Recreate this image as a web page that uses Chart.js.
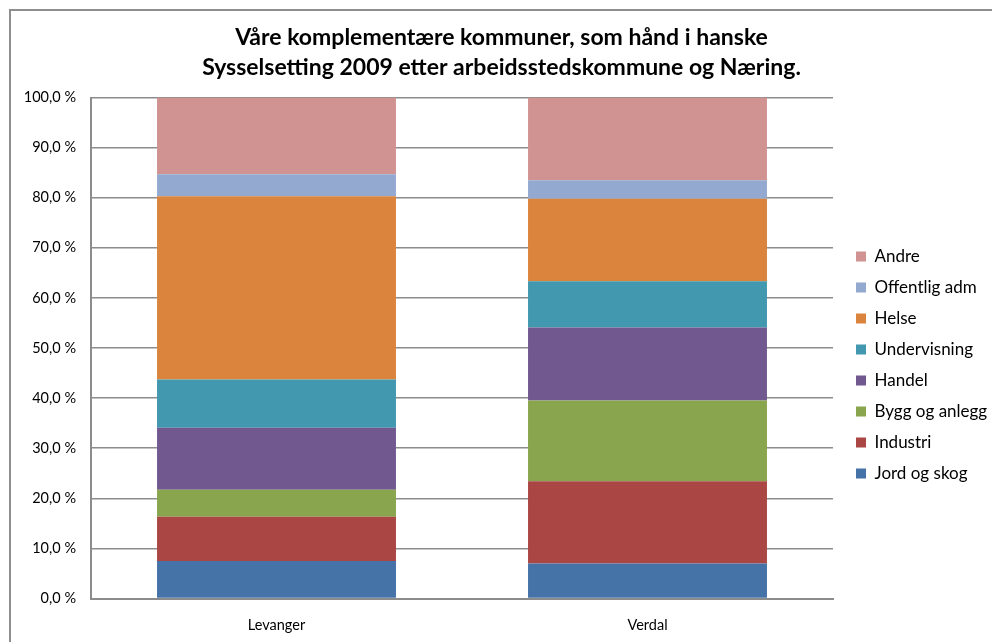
<!DOCTYPE html>
<html>
<head>
<meta charset="utf-8">
<script src="https://cdn.jsdelivr.net/npm/chart.js@4/dist/chart.umd.min.js"></script>
<style>
  html, body { margin: 0; padding: 0; background: #fff; overflow: hidden; }
  #frame { position: absolute; left: 9px; top: 9px; width: 1100px; height: 800px; border: 2px solid #8e8e8e; }
  #wrap { position: absolute; left: 0; top: 0; width: 992px; height: 642px; }
</style>
</head>
<body>
<div id="frame"></div>
<div id="wrap"><canvas id="chart"></canvas></div>
<script>
const kommuner = ['Levanger', 'Verdal']
const naeringer = ['Jord og skog', 'Industri', 'Bygg og anlegg', 'Handel', 'Undervisning', 'Helse', 'Offentlig adm', 'Andre']
const levanger = [7.5, 8.8, 5.4, 12.4, 9.6, 36.6, 4.4, 15.3]
const verdal = [7.0, 16.4, 16.1, 14.6, 9.2, 16.5, 3.7, 16.5]
const farger = ['#4572A7', '#AA4643', '#89A54E', '#71588F', '#4198AF', '#DB843D', '#93A9CF', '#D19392']
const yTickLabels = ['0,0 %', '10,0 %', '20,0 %', '30,0 %', '40,0 %', '50,0 %', '60,0 %', '70,0 %', '80,0 %', '90,0 %', '100,0 %']

const fontFamily = 'Lato, "Open Sans", sans-serif'

let datasets = []
for (let i = 0; i < naeringer.length; i++) {
  datasets.push({
    label: naeringer[i],
    data: [levanger[i], verdal[i]],
    backgroundColor: farger[i],
    borderWidth: 0,
    categoryPercentage: 0.644,
    barPercentage: 1
  })
}

// excel puts the legend a little lower and further right than chart.js does
const legendNudge = {
  id: 'legendNudge',
  afterLayout(chart) {
    let l = chart.legend
    l.left += 9
    l.right += 9
    l.top += 17
    l.bottom += 17
  }
}

new Chart(document.getElementById('chart'), {
  type: 'bar',
  data: { labels: kommuner, datasets: datasets },
  plugins: [legendNudge],
  options: {
    responsive: true,
    maintainAspectRatio: false,
    animation: false,
    layout: { padding: { left: 20, right: 9, top: 10, bottom: 0 } },
    plugins: {
      title: {
        display: true,
        text: ['Våre komplementære kommuner, som hånd i hanske', 'Sysselsetting 2009 etter arbeidsstedskommune og Næring.'],
        color: '#000',
        font: { family: fontFamily, size: 23, weight: 'bold', lineHeight: 30 / 23 },
        padding: { top: 13, bottom: 14.5 }
      },
      legend: {
        position: 'right',
        fullSize: false,
        reverse: true,
        maxWidth: 150,
        labels: {
          boxWidth: 10,
          boxHeight: 10,
          padding: 14,
          color: '#000',
          font: { family: fontFamily, size: 17 }
        }
      },
      tooltip: { enabled: false }
    },
    scales: {
      x: {
        stacked: true,
        grid: { display: false, drawTicks: false },
        border: { color: '#8c8c8c', width: 2 },
        ticks: { padding: 18, color: '#000', font: { family: fontFamily, size: 14.5 } },
        afterFit(s) { s.height = 43.5 }
      },
      y: {
        stacked: true,
        min: 0,
        max: 100,
        grid: { color: '#8c8c8c', lineWidth: 1.5, drawTicks: false },
        border: { color: '#8c8c8c', width: 2 },
        ticks: {
          stepSize: 10,
          padding: 15,
          color: '#000',
          font: { family: fontFamily, size: 14.5 },
          callback: (v, i) => yTickLabels[i]
        },
        afterFit(s) { s.width = 71 }
      }
    }
  }
})
</script>
</body>
</html>
